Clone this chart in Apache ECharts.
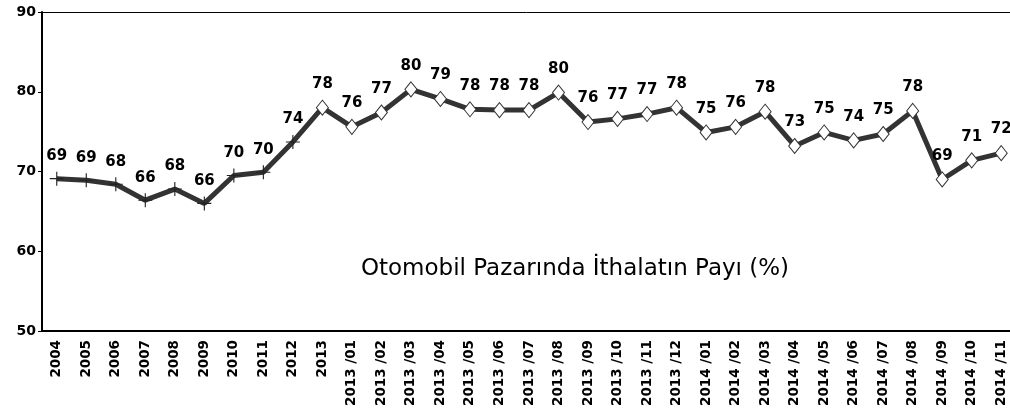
<!DOCTYPE html>
<html>
<head>
<meta charset="utf-8">
<script src="https://cdn.jsdelivr.net/npm/echarts@6/dist/echarts.min.js"></script>
<style>
  html, body { margin: 0; padding: 0; background: #fff; }
  #chartBox { width: 1010px; height: 414px; }
</style>
</head>
<body>
<div id="chartBox"></div>
<script>
// kategoriler
const categories = [
  '2004', '2005', '2006', '2007', '2008', '2009', '2010', '2011', '2012', '2013',
  '2013 /01', '2013 /02', '2013 /03', '2013 /04', '2013 /05', '2013 /06',
  '2013 /07', '2013 /08', '2013 /09', '2013 /10', '2013 /11', '2013 /12',
  '2014 /01', '2014 /02', '2014 /03', '2014 /04', '2014 /05', '2014 /06',
  '2014 /07', '2014 /08', '2014 /09', '2014 /10', '2014 /11'
]
// ithalat payı (%)
const importShare = [
  69.1, 68.9, 68.4, 66.4, 67.8, 66.0, 69.5, 69.9, 73.7, 78.0,
  75.6, 77.4, 80.3, 79.1, 77.8, 77.7, 77.7, 79.9, 76.2, 76.6, 77.2, 78.0,
  74.9, 75.6, 77.5, 73.2, 74.9, 73.9, 74.7, 77.6, 69.0, 71.4, 72.3
]
// yıllık noktalar "+" ile, aylıklar baklava ile
const yearlyCount = 9
const yTicks = [50, 60, 70, 80, 90]

const plusPath = 'path://M4.6,0 H5.4 V4.6 H10 V5.4 H5.4 V10 H4.6 V5.4 H0 V4.6 H4.6 Z'

const seriesData = importShare.map((v, i) => {
  if (i < yearlyCount) {
    return { value: v, symbol: plusPath, symbolSize: 14, itemStyle: { color: '#222', borderWidth: 0 } }
  }
  return { value: v, symbol: 'diamond', symbolSize: [12, 15], itemStyle: { color: '#fff', borderColor: '#333', borderWidth: 1 } }
})

const myChart = echarts.init(document.getElementById('chartBox'))

const chartOptions = {
  animation: false,
  textStyle: { fontFamily: 'DejaVu Sans' },
  grid: { left: 42, top: 12, width: 974, bottom: 83, outerBoundsMode: 'none' },
  title: {
    text: 'Otomobil Pazarında İthalatın Payı (%)',
    left: 570,
    top: 253,
    textAlign: 'center',
    textStyle: { fontFamily: 'DejaVu Sans', fontSize: 23, fontWeight: 'normal', color: '#000' }
  },
  xAxis: [
    {
      type: 'category',
      data: categories,
      boundaryGap: true,
      axisLine: { lineStyle: { color: '#000', width: 2 } },
      axisTick: { length: 4, lineStyle: { color: '#000' } },
      axisLabel: {
        interval: 0,
        rotate: 90,
        fontSize: 13.5,
        fontWeight: 'bold',
        color: '#000',
        margin: 9,
        fontFamily: 'DejaVu Sans'
      }
    },
    {
      type: 'category',
      position: 'top',
      data: categories,
      axisLine: { show: true, lineStyle: { color: '#000', width: 1 } },
      axisTick: { show: false },
      axisLabel: { show: false }
    }
  ],
  yAxis: {
    type: 'value',
    min: yTicks[0],
    max: yTicks[yTicks.length - 1],
    interval: 10,
    axisLine: { show: true, lineStyle: { color: '#000', width: 2 } },
    axisTick: { show: true, length: 4, lineStyle: { color: '#000' } },
    splitLine: { show: false },
    axisLabel: {
      fontSize: 14,
      fontWeight: 'bold',
      color: '#000',
      margin: 6,
      fontFamily: 'DejaVu Sans'
    }
  },
  series: [
    {
      name: 'İthalat Payı',
      type: 'line',
      data: seriesData,
      lineStyle: { color: '#333', width: 5 },
      z: 3,
      label: {
        show: true,
        position: 'top',
        distance: 8,
        fontSize: 15,
        fontWeight: 'bold',
        color: '#000',
        fontFamily: 'DejaVu Sans',
        formatter: p => Math.round(p.value)
      }
    }
  ]
}

if (myChart) {
  myChart.setOption(chartOptions)
}
</script>
</body>
</html>
